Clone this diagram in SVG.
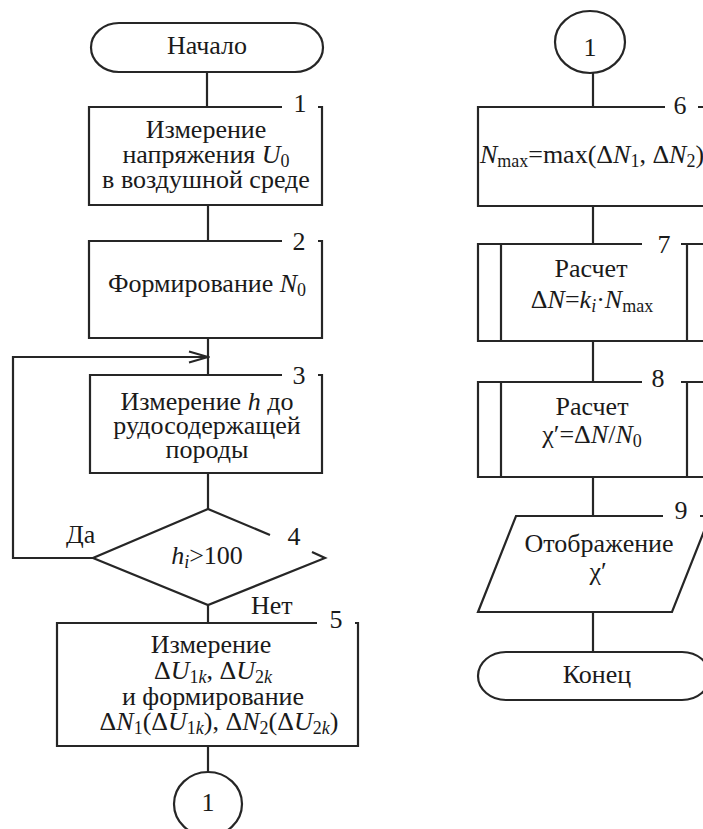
<svg xmlns="http://www.w3.org/2000/svg" width="703" height="829" viewBox="0 0 703 829">
<style>
.s{fill:none;stroke:#262626;stroke-width:2.2;stroke-linejoin:miter}
.w{fill:#fff;stroke:#262626;stroke-width:2.2}
text{font-family:"Liberation Serif","Times New Roman",Times,serif;font-size:26px;fill:#1a1a1a}
.c{text-anchor:middle}
.i{font-style:italic}
.sb{font-size:18px}
</style>
<defs>
<marker id="ar" markerWidth="22" markerHeight="14" refX="20" refY="7" orient="auto" markerUnits="userSpaceOnUse">
<path d="M1,1.5 L20,7 L1,12.5" fill="none" stroke="#262626" stroke-width="2"/>
</marker>
</defs>
<rect width="703" height="829" fill="#fff"/>
<g id="connectors" class="s">
<line x1="207" y1="72" x2="207" y2="107"/>
<line x1="208" y1="205" x2="208" y2="241"/>
<line x1="208" y1="338" x2="208" y2="375"/>
<line x1="208" y1="473" x2="208" y2="509"/>
<line x1="208" y1="605" x2="208" y2="623"/>
<line x1="208" y1="746" x2="208" y2="772"/>
<path d="M93,558 H13 V357 H208" marker-end="url(#ar)"/>
<line x1="593" y1="73" x2="593" y2="107"/>
<line x1="593" y1="206" x2="593" y2="244"/>
<line x1="593" y1="341" x2="593" y2="382"/>
<line x1="593" y1="477" x2="593" y2="516"/>
<line x1="593" y1="612" x2="593" y2="652"/>
</g>
<g id="start">
<rect class="w" x="91" y="23" width="232" height="49" rx="28" ry="24.5"/>
<text class="c" x="207" y="54">Начало</text>
</g>
<g id="n1">
<path class="s" d="M282,107 H89 V205 H322 V107 H318"/>
<text x="300" y="112" class="c">1</text>
<text class="c" x="206" y="138">Измерение</text>
<text class="c" x="206" y="163">напряжения <tspan class="i">U</tspan><tspan class="sb" dy="4">0</tspan></text>
<text class="c" x="206" y="188">в воздушной среде</text>
</g>
<g id="n2">
<path class="s" d="M282,241 H89 V338 H322 V241 H318"/>
<text x="299" y="250" class="c">2</text>
<text class="c" x="207" y="292">Формирование <tspan class="i">N</tspan><tspan class="sb" dy="4">0</tspan></text>
</g>
<g id="n3">
<path class="s" d="M282,375 H90 V473 H322 V375 H318"/>
<text x="299" y="384" class="c">3</text>
<text class="c" x="207" y="410">Измерение <tspan class="i">h</tspan> до</text>
<text class="c" x="207" y="434">рудосодержащей</text>
<text class="c" x="207" y="458">породы</text>
</g>
<g id="n4">
<path class="s" d="M270,535 L208,509 L93,558 L208,605 L325,558 L312,552"/>
<text x="294" y="545" class="c">4</text>
<text class="c" x="207" y="564"><tspan class="i">h</tspan><tspan class="sb i" dy="4">i</tspan><tspan dy="-4">&gt;100</tspan></text>
<text x="66" y="543">Да</text>
<text x="251" y="614">Нет</text>
</g>
<g id="n5">
<path class="s" d="M317,623 H57 V746 H358 V623 H355"/>
<text x="336" y="628" class="c">5</text>
<text class="c" x="211" y="653">Измерение</text>
<text class="c" x="213" y="679">Δ<tspan class="i">U</tspan><tspan class="sb" dy="4">1<tspan class="i">k</tspan></tspan><tspan dy="-4">, Δ</tspan><tspan class="i">U</tspan><tspan class="sb" dy="4">2<tspan class="i">k</tspan></tspan></text>
<text class="c" x="213" y="705">и формирование</text>
<text class="c" x="219" y="730">Δ<tspan class="i">N</tspan><tspan class="sb" dy="4">1</tspan><tspan dy="-4">(Δ</tspan><tspan class="i">U</tspan><tspan class="sb" dy="4">1<tspan class="i">k</tspan></tspan><tspan dy="-4">), Δ</tspan><tspan class="i">N</tspan><tspan class="sb" dy="4">2</tspan><tspan dy="-4">(Δ</tspan><tspan class="i">U</tspan><tspan class="sb" dy="4">2<tspan class="i">k</tspan></tspan><tspan dy="-4">)</tspan></text>
</g>
<g id="con1">
<ellipse class="w" cx="208" cy="804" rx="34" ry="32"/>
<text class="c" x="208" y="811">1</text>
</g>
<g id="con2">
<ellipse class="w" cx="590" cy="42" rx="35" ry="31"/>
<text class="c" x="590" y="56">1</text>
</g>
<g id="n6">
<path class="s" d="M665,107 H478 V206 H712 V107 H698"/>
<text x="680" y="114" class="c">6</text>
<text class="c" x="592" y="163"><tspan class="i">N</tspan><tspan class="sb" dy="4">max</tspan><tspan dy="-4">=max(Δ</tspan><tspan class="i">N</tspan><tspan class="sb" dy="4">1</tspan><tspan dy="-4">, Δ</tspan><tspan class="i">N</tspan><tspan class="sb" dy="4">2</tspan><tspan dy="-4">)</tspan></text>
</g>
<g id="n7">
<path class="s" d="M642,244 H478 V341 H712 V244 H681 M501,244 V341 M687,244 V341"/>
<text x="664" y="253" class="c">7</text>
<text class="c" x="591" y="277">Расчет</text>
<text class="c" x="592" y="308">Δ<tspan class="i">N</tspan>=<tspan class="i">k</tspan><tspan class="sb i" dy="4">i</tspan><tspan dy="-4">·</tspan><tspan class="i">N</tspan><tspan class="sb" dy="4">max</tspan></text>
</g>
<g id="n8">
<path class="s" d="M642,382 H478 V477 H712 V382 H681 M501,382 V477 M687,382 V477"/>
<text x="658" y="387" class="c">8</text>
<text class="c" x="592" y="415">Расчет</text>
<text class="c" x="592" y="443">χ′=Δ<tspan class="i">N</tspan>/<tspan class="i">N</tspan><tspan class="sb" dy="4">0</tspan></text>
</g>
<g id="n9">
<path class="s" d="M663,516 H516 L478,612 H672 L710,516 H700"/>
<text x="681" y="519" class="c">9</text>
<text class="c" x="599" y="552">Отображение</text>
<text class="c" x="598" y="580">χ′</text>
</g>
<g id="end">
<rect class="w" x="478" y="652" width="232" height="48" rx="28" ry="24"/>
<text class="c" x="597" y="683">Конец</text>
</g>
</svg>
